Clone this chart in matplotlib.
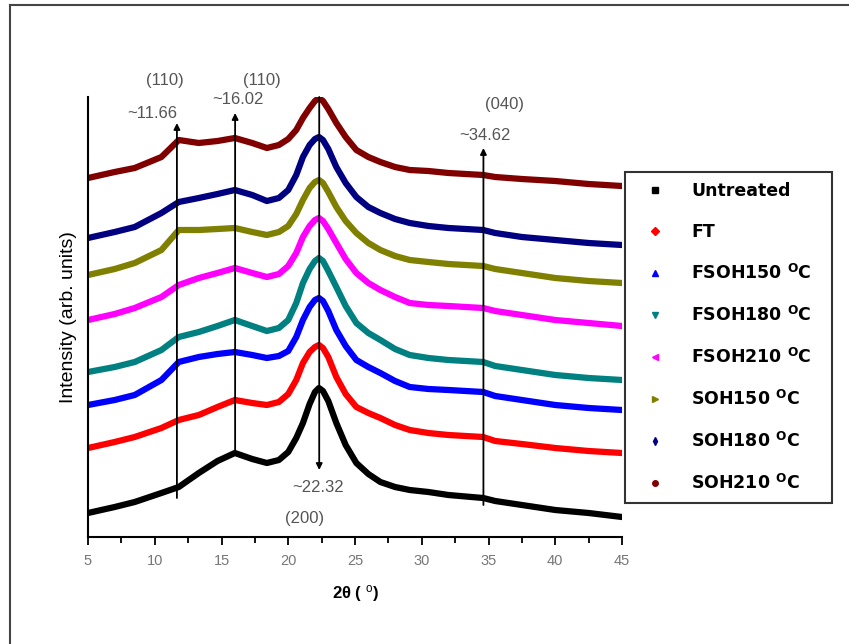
import matplotlib
matplotlib.use("Agg")
import matplotlib.pyplot as plt
from matplotlib.lines import Line2D

plt.rcParams['font.family'] = ['Liberation Sans', 'DejaVu Sans']
plt.rcParams['mathtext.fontset'] = 'custom'
plt.rcParams['mathtext.rm'] = 'Liberation Sans'
plt.rcParams['mathtext.it'] = 'Liberation Sans:italic'
plt.rcParams['mathtext.bf'] = 'DejaVu Sans:bold'

# 2theta sample positions (deg)
two_theta = [5, 7, 8.5, 10.5, 11.8, 13.3, 14.7, 16, 17.3, 18.4, 19.3, 20, 20.6, 21.1,
             21.6, 22.0, 22.3, 22.6, 23.0, 23.6, 24.3, 25.1, 26.0, 26.9, 28, 29.1,
             30.5, 32, 34.6, 35.5, 37.5, 40, 42.5, 45]

# stacked intensities (arb. units, offsets included)
untreated = [24, 30, 35, 44, 50, 64, 76, 84, 78, 74, 77, 85, 99, 114,
             133, 145, 149, 146, 136, 114, 92, 74, 63, 55, 50, 47,
             45, 42, 39, 36, 32, 27, 24, 20]
ft        = [89, 95, 100, 109, 117, 122, 130, 137, 134, 132, 135, 143, 157, 174,
             185, 190, 192, 189, 180, 160, 143, 130, 124, 119, 112, 107,
             104, 102, 100, 96, 93, 89, 86, 84]
fsoh150   = [132, 137, 142, 157, 175, 180, 183, 185, 182, 179, 181, 186, 200, 217,
             230, 237, 239, 236, 226, 207, 191, 177, 170, 164, 156, 150,
             148, 147, 145, 141, 137, 132, 129, 127]
fsoh180   = [165, 170, 175, 187, 200, 205, 211, 217, 211, 206, 209, 217, 234, 254,
             268, 276, 279, 276, 266, 250, 231, 214, 204, 197, 188, 182,
             179, 177, 175, 171, 167, 162, 159, 157]
fsoh210   = [217, 223, 229, 240, 252, 259, 264, 269, 264, 260, 263, 271, 284, 300,
             311, 317, 319, 316, 308, 294, 278, 264, 254, 247, 240, 234,
             232, 231, 229, 226, 222, 217, 214, 211]
soh150    = [262, 268, 274, 287, 307, 307, 308, 309, 305, 302, 305, 311, 323, 337,
             349, 355, 357, 354, 345, 330, 316, 304, 294, 287, 281, 277,
             275, 273, 271, 268, 264, 259, 256, 254]
soh180    = [299, 305, 310, 324, 335, 339, 343, 347, 342, 336, 339, 347, 362, 380,
             392, 398, 400, 397, 388, 370, 354, 340, 330, 324, 318, 314,
             311, 309, 307, 304, 300, 297, 294, 292]
soh210    = [359, 365, 369, 380, 397, 394, 396, 399, 394, 389, 392, 398, 407, 419,
             429, 436, 439, 436, 428, 414, 400, 387, 380, 375, 370, 367,
             366, 364, 362, 360, 358, 356, 353, 351]

series = [untreated, ft, fsoh150, fsoh180, fsoh210, soh150, soh180, soh210]
deg = r'$^{\mathbf{O}}$'
labels = ['Untreated', 'FT',
          'FSOH150 ' + deg + 'C', 'FSOH180 ' + deg + 'C', 'FSOH210 ' + deg + 'C',
          'SOH150 ' + deg + 'C', 'SOH180 ' + deg + 'C', 'SOH210 ' + deg + 'C']
colors = ['black', '#ff0000', '#0000ff', '#008080', '#ff00ff', '#808000', '#000080', '#800000']
markers = ['s', 'D', '^', 'v', '<', '>', 'd', 'o']

# peak positions (deg)
peaks = [11.66, 16.02, 22.32, 34.62]

fig = plt.figure(figsize=(8.49, 6.44), dpi=100)
ax = fig.add_axes([88/849, 107/644, 534/849, 440/644])

for y, c in zip(series, colors):
    ax.plot(two_theta, y, color=c, lw=4.5, solid_joinstyle='round')

ax.set_xlim(5, 45)
ax.set_ylim(0, 440)
ax.set_xticks(range(5, 46, 5))
ax.set_xticks([x + 2.5 for x in range(5, 45, 5)], minor=True)
ax.set_yticks([])
ax.tick_params(axis='x', which='major', length=6, width=1.3, labelsize=10.5,
               labelcolor='#777777', pad=6)
ax.tick_params(axis='x', which='minor', length=4, width=1.3)
for s in ['top', 'right']:
    ax.spines[s].set_visible(False)
for s in ['left', 'bottom']:
    ax.spines[s].set_linewidth(1.5)

ax.set_xlabel('2θ ( $^{\\mathrm{o}}$)', fontsize=12, fontweight='bold', labelpad=11)
ax.set_ylabel('Intensity (arb. units)', fontsize=14, labelpad=8)

arrow = dict(arrowstyle='-|>', color='black', lw=1.3, mutation_scale=9, shrinkA=0, shrinkB=0)
ax.annotate('', xy=(peaks[0], 414), xytext=(peaks[0], 39), arrowprops=arrow, annotation_clip=False)
ax.annotate('', xy=(peaks[1], 424), xytext=(peaks[1], 85), arrowprops=arrow, annotation_clip=False)
ax.annotate('', xy=(peaks[2], 67), xytext=(peaks[2], 440), arrowprops=arrow, annotation_clip=False)
ax.annotate('', xy=(peaks[3], 389), xytext=(peaks[3], 32), arrowprops=arrow, annotation_clip=False)

tc = '#555555'
fs = 12
ax.text(10.77, 457, '(110)', color=tc, fontsize=fs, ha='center', va='center', clip_on=False)
ax.text(9.8, 424, '~11.66', color=tc, fontsize=fs, ha='center', va='center', clip_on=False)
ax.text(18.03, 457, '(110)', color=tc, fontsize=fs, ha='center', va='center', clip_on=False)
ax.text(16.24, 437, '~16.02', color=tc, fontsize=fs, ha='center', va='center', clip_on=False)
ax.text(22.2, 49, '~22.32', color=tc, fontsize=fs, ha='center', va='center')
ax.text(21.25, 19, '(200)', color=tc, fontsize=fs, ha='center', va='center')
ax.text(36.2, 432, '(040)', color=tc, fontsize=fs, ha='center', va='center')
ax.text(34.7, 402, '~34.62', color=tc, fontsize=fs, ha='center', va='center')

handles = [Line2D([], [], ls='none', marker=m, color=c, markersize=4) for m, c in zip(markers, colors)]
leg = fig.legend(handles, labels, loc='upper left',
                 bbox_to_anchor=(625/849, 1 - 172/644, 207/849, 0.0), mode='expand',
                 borderaxespad=0, frameon=True, fancybox=False, edgecolor='black',
                 prop={'family': 'DejaVu Sans', 'weight': 'bold', 'size': 12.5},
                 labelspacing=1.3, handletextpad=1.0, borderpad=0.6, handlelength=2.2)
leg.get_frame().set_linewidth(1.5)

# outer frame of the figure
fig.add_artist(Line2D([10/849, 1], [1 - 5/644, 1 - 5/644], color='#444444', lw=1.5))
fig.add_artist(Line2D([10/849, 10/849], [0, 1 - 5/644], color='#444444', lw=1.5))

fig.savefig('out.png', dpi=100)
